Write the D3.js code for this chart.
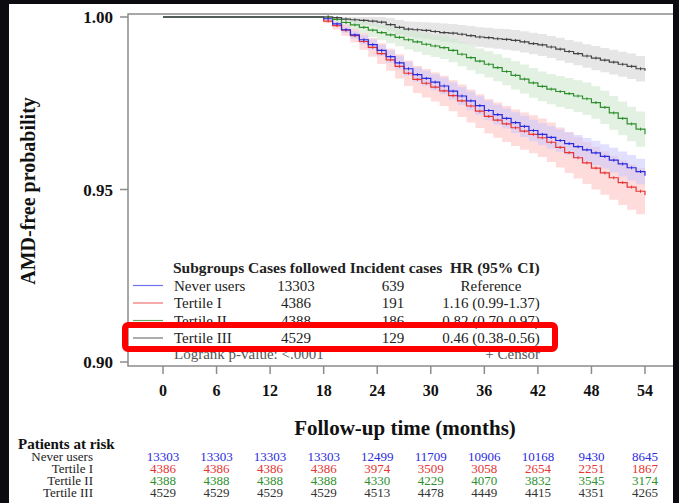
<!DOCTYPE html>
<html>
<head>
<meta charset="utf-8">
<script src="https://cdn.jsdelivr.net/npm/d3@7"></script>
<style>
	html, body { margin: 0; padding: 0; background: #0b0b10; }
	svg { display: block; }
	text { font-family: "Liberation Serif", "Times New Roman", serif; }
</style>
</head>
<body>
<svg id="chart" width="679" height="503"></svg>
<script>

// Follow-up months where the curves step (0, then monthly from 18)
var months = [0,
	18, 19, 20, 21, 22, 23, 24, 25, 26, 27,
	28, 29, 30, 31, 32, 33, 34, 35, 36, 37,
	38, 39, 40, 41, 42, 43, 44, 45, 46, 47,
	48, 49, 50, 51, 52, 53, 54];

// AMD-free probability
var neverUsers = [1,
	0.9995, 0.9980, 0.9963, 0.9948, 0.9934, 0.9920, 0.9903, 0.9885, 0.9867, 0.9850,
	0.9833, 0.9822, 0.9811, 0.9800, 0.9785, 0.9771, 0.9757, 0.9743, 0.9729, 0.9717,
	0.9706, 0.9694, 0.9683, 0.9671, 0.9660, 0.9651, 0.9642, 0.9633, 0.9624, 0.9615,
	0.9606, 0.9596, 0.9585, 0.9574, 0.9563, 0.9552, 0.9540];
var tertile1 = [1,
	0.9988, 0.9975, 0.9962, 0.9946, 0.9929, 0.9912, 0.9894, 0.9876, 0.9857, 0.9837,
	0.9819, 0.9808, 0.9797, 0.9786, 0.9772, 0.9757, 0.9742, 0.9727, 0.9712, 0.9701,
	0.9690, 0.9679, 0.9669, 0.9660, 0.9650, 0.9637, 0.9622, 0.9607, 0.9592, 0.9577,
	0.9562, 0.9548, 0.9534, 0.9520, 0.9507, 0.9495, 0.9483];
var tertile2 = [1,
	1.0000, 0.9993, 0.9984, 0.9977, 0.9970, 0.9962, 0.9955, 0.9948, 0.9941, 0.9934,
	0.9928, 0.9921, 0.9916, 0.9911, 0.9903, 0.9892, 0.9882, 0.9872, 0.9863, 0.9853,
	0.9842, 0.9831, 0.9820, 0.9809, 0.9799, 0.9791, 0.9784, 0.9778, 0.9771, 0.9763,
	0.9752, 0.9738, 0.9722, 0.9706, 0.9690, 0.9675, 0.9660];
var tertile3 = [1,
	1.0000, 0.9998, 0.9994, 0.9992, 0.9990, 0.9988, 0.9985, 0.9978, 0.9970, 0.9965,
	0.9963, 0.9961, 0.9958, 0.9955, 0.9953, 0.9950, 0.9946, 0.9942, 0.9940, 0.9937,
	0.9935, 0.9932, 0.9928, 0.9923, 0.9919, 0.9913, 0.9907, 0.9900, 0.9894, 0.9887,
	0.9881, 0.9875, 0.9869, 0.9863, 0.9857, 0.9850, 0.9844];

// half width of the 95% confidence band
var neverUsersCI = [0,
	0.0003, 0.0006, 0.0009, 0.0011, 0.0013, 0.0015, 0.0016, 0.0018, 0.0019, 0.0020,
	0.0021, 0.0022, 0.0023, 0.0024, 0.0025, 0.0026, 0.0027, 0.0027, 0.0028, 0.0029,
	0.0029, 0.0030, 0.0031, 0.0031, 0.0032, 0.0032, 0.0033, 0.0033, 0.0034, 0.0034,
	0.0035, 0.0035, 0.0036, 0.0036, 0.0037, 0.0037, 0.0038];
var tertile1CI = [0,
	0.0006, 0.0011, 0.0016, 0.0020, 0.0024, 0.0027, 0.0030, 0.0032, 0.0035, 0.0037,
	0.0039, 0.0041, 0.0042, 0.0044, 0.0045, 0.0047, 0.0048, 0.0049, 0.0050, 0.0051,
	0.0052, 0.0053, 0.0054, 0.0055, 0.0056, 0.0057, 0.0058, 0.0059, 0.0060, 0.0061,
	0.0062, 0.0063, 0.0064, 0.0065, 0.0066, 0.0067, 0.0068];
var tertile2CI = [0,
	0.0004, 0.0008, 0.0012, 0.0015, 0.0018, 0.0020, 0.0022, 0.0024, 0.0026, 0.0028,
	0.0029, 0.0031, 0.0032, 0.0033, 0.0034, 0.0035, 0.0036, 0.0037, 0.0038, 0.0039,
	0.0040, 0.0041, 0.0042, 0.0043, 0.0043, 0.0044, 0.0045, 0.0045, 0.0046, 0.0047,
	0.0047, 0.0048, 0.0049, 0.0049, 0.0050, 0.0051, 0.0052];
var tertile3CI = [0,
	0.0003, 0.0006, 0.0009, 0.0011, 0.0013, 0.0015, 0.0017, 0.0019, 0.0021, 0.0022,
	0.0023, 0.0024, 0.0025, 0.0026, 0.0027, 0.0027, 0.0028, 0.0028, 0.0029, 0.0029,
	0.0030, 0.0030, 0.0031, 0.0031, 0.0032, 0.0032, 0.0033, 0.0033, 0.0034, 0.0034,
	0.0035, 0.0035, 0.0036, 0.0036, 0.0037, 0.0037, 0.0038];

// legend table
var subgroups = ['Never users', 'Tertile I', 'Tertile II', 'Tertile III'];
var casesFollowed = ['13303', '4386', '4388', '4529'];
var incidentCases = ['639', '191', '186', '129'];
var hazardRatios = ['Reference', '1.16 (0.99-1.37)', '0.82 (0.70-0.97)', '0.46 (0.38-0.56)'];

// axes + patients at risk
var xTicks = [0, 6, 12, 18, 24, 30, 36, 42, 48, 54];
var yTicks = [0.90, 0.95, 1.00];
var atRiskNever = [13303, 13303, 13303, 13303, 12499, 11709, 10906, 10168, 9430, 8645];
var atRiskT1 = [4386, 4386, 4386, 4386, 3974, 3509, 3058, 2654, 2251, 1867];
var atRiskT2 = [4388, 4388, 4388, 4388, 4330, 4229, 4070, 3832, 3545, 3174];
var atRiskT3 = [4529, 4529, 4529, 4529, 4513, 4478, 4449, 4415, 4351, 4265];

var colors = ['#2b2bdc', '#e53535', '#2f8f2f', '#444444'];
var legendColors = ['#7070f0', '#f07070', '#60a860', '#777777'];
var bandColors = ['#c8c8ff', '#ffc4c4', '#cfe8cf', '#d6d6d6'];

var svg = d3.select('#chart');

// white sheet on the dark slide
svg.append('rect').attr('x', 9).attr('y', 4).attr('width', 664).attr('height', 499).attr('fill', '#fff');

var x = d3.scaleLinear().domain([0, 54]).range([163, 645]);
var y = d3.scaleLinear().domain([0.90, 1.00]).range([362, 17]);

var frameLeft = 128, frameTop = 14, frameBottom = 366, frameRight = 673;

drawBands();
drawCurves();
drawFrame();
drawLegend();
drawRiskTable();

function seriesList(){
	return [
		{ name: subgroups[0], s: neverUsers, ci: neverUsersCI },
		{ name: subgroups[1], s: tertile1, ci: tertile1CI },
		{ name: subgroups[2], s: tertile2, ci: tertile2CI },
		{ name: subgroups[3], s: tertile3, ci: tertile3CI }
	];
}

function drawBands(){
	var area = d3.area()
		.curve(d3.curveStepAfter)
		.x(function(d){ return x(d.t); })
		.y0(function(d){ return y(d.s - d.ci); })
		.y1(function(d){ return y(Math.min(1, d.s + d.ci)); });

	// gray + green first, then red and blue so they mix purple
	[3, 2, 1, 0].forEach(function(k){
		var ser = seriesList()[k];
		var pts = months.map(function(t, j){ return { t: t, s: ser.s[j], ci: ser.ci[j] }; }).slice(1);
		svg.append('path')
			.attr('d', area(pts))
			.attr('fill', bandColors[k])
			.attr('fill-opacity', k === 0 ? 0.55 : 0.6);
	});
}

function drawCurves(){
	var line = d3.line()
		.curve(d3.curveStepAfter)
		.x(function(d){ return x(d.t); })
		.y(function(d){ return y(d.s); });

	[1, 0, 2, 3].forEach(function(k){
		var ser = seriesList()[k];
		var pts = months.map(function(t, j){ return { t: t, s: ser.s[j] }; });
		svg.append('path')
			.attr('d', line(pts))
			.attr('fill', 'none')
			.attr('stroke', colors[k])
			.attr('stroke-width', 1.2);

		// censor marks, mid-way along each step
		svg.append('g').selectAll('line')
			.data(pts.slice(1, -1))
			.enter().append('line')
			.attr('x1', function(d){ return x(d.t + 0.5); })
			.attr('x2', function(d){ return x(d.t + 0.5); })
			.attr('y1', function(d){ return y(d.s) - 1.5; })
			.attr('y2', function(d){ return y(d.s) + 1.5; })
			.attr('stroke', colors[k])
			.attr('stroke-width', 1);
	});
}

function drawFrame(){
	var frame = svg.append('g').attr('stroke', '#8c8c8c').attr('stroke-width', 1.5).attr('fill', 'none');
	frame.append('path').attr('d', 'M' + frameRight + ',' + frameTop + 'H' + frameLeft + 'V' + frameBottom + 'H' + frameRight);

	// y ticks
	var yAxis = svg.append('g');
	yAxis.selectAll('line').data(yTicks).enter().append('line')
		.attr('x1', frameLeft - 8).attr('x2', frameLeft)
		.attr('y1', function(d){ return y(d); }).attr('y2', function(d){ return y(d); })
		.attr('stroke', '#8c8c8c').attr('stroke-width', 1.5);
	yAxis.selectAll('text').data(yTicks).enter().append('text')
		.attr('x', 113).attr('y', function(d){ return y(d) + 6; })
		.attr('text-anchor', 'end')
		.style('font-size', '17px').style('font-weight', 'bold').style('fill', '#111')
		.text(function(d){ return d3.format('.2f')(d); });

	// x ticks
	var xAxis = svg.append('g');
	xAxis.selectAll('line').data(xTicks).enter().append('line')
		.attr('x1', function(d){ return x(d); }).attr('x2', function(d){ return x(d); })
		.attr('y1', frameBottom).attr('y2', frameBottom + 8)
		.attr('stroke', '#8c8c8c').attr('stroke-width', 1.5);
	xAxis.selectAll('text').data(xTicks).enter().append('text')
		.attr('x', function(d){ return x(d); }).attr('y', 396)
		.attr('text-anchor', 'middle')
		.style('font-size', '16px').style('font-weight', 'bold').style('fill', '#111')
		.text(function(d){ return d; });

	svg.append('text')
		.attr('transform', 'translate(35,191) rotate(-90)')
		.attr('text-anchor', 'middle')
		.style('font-size', '20px').style('font-weight', 'bold').style('fill', '#111')
		.text('AMD-free probability');

	svg.append('text')
		.attr('x', 405).attr('y', 435)
		.attr('text-anchor', 'middle')
		.style('font-size', '21px').style('font-weight', 'bold').style('fill', '#111')
		.text('Follow-up time (months)');
}

function drawLegend(){
	var g = svg.append('g').style('font-size', '15px').style('fill', '#222');
	var headerY = 273, rowH = 17.5;

	g.append('text').attr('x', 173).attr('y', headerY)
		.attr('xml:space', 'preserve')
		.style('font-weight', 'bold').style('font-size', '15.5px')
		.text('Subgroups Cases followed Incident cases  HR (95% CI)');

	subgroups.forEach(function(name, k){
		var by = headerY + rowH * (k + 1);
		g.append('line')
			.attr('x1', 133).attr('x2', 163)
			.attr('y1', by - 5).attr('y2', by - 5)
			.attr('stroke', legendColors[k]).attr('stroke-width', 1.2);
		g.append('text').attr('x', 174).attr('y', by).text(name);
		g.append('text').attr('x', 296).attr('y', by).attr('text-anchor', 'middle').text(casesFollowed[k]);
		g.append('text').attr('x', 393).attr('y', by).attr('text-anchor', 'middle').text(incidentCases[k]);
		g.append('text').attr('x', 491).attr('y', by).attr('text-anchor', 'middle').text(hazardRatios[k]);
	});

	var ly = headerY + rowH * 5 - 2;
	g.append('text').attr('x', 174).attr('y', ly).style('fill', '#555').text('Logrank p-value: <.0001');
	g.append('text').attr('x', 540).attr('y', ly).attr('text-anchor', 'end').style('fill', '#555').text('+ Censor');

	// red highlight around the Tertile III row
	svg.append('rect')
		.attr('x', 125).attr('y', 325).attr('width', 430).attr('height', 24)
		.attr('rx', 3)
		.attr('fill', 'none').attr('stroke', '#f00').attr('stroke-width', 6);
}

function drawRiskTable(){
	var g = svg.append('g').style('font-size', '13px');
	var rows = [atRiskNever, atRiskT1, atRiskT2, atRiskT3];

	g.append('text').attr('x', 18).attr('y', 449)
		.style('font-weight', 'bold').style('font-size', '15px').style('fill', '#111')
		.text('Patients at risk');

	rows.forEach(function(vals, k){
		var by = 461 + k * 12;
		g.append('text').attr('x', 93).attr('y', by).attr('text-anchor', 'end').style('fill', '#222').text(subgroups[k]);
		g.selectAll('text.n' + k).data(vals).enter().append('text')
			.attr('class', 'n' + k)
			.attr('x', function(d, j){ return x(xTicks[j]); })
			.attr('y', by)
			.attr('text-anchor', 'middle')
			.style('fill', k === 3 ? '#333' : colors[k])
			.text(function(d){ return d; });
	});
}

</script>
</body>
</html>
